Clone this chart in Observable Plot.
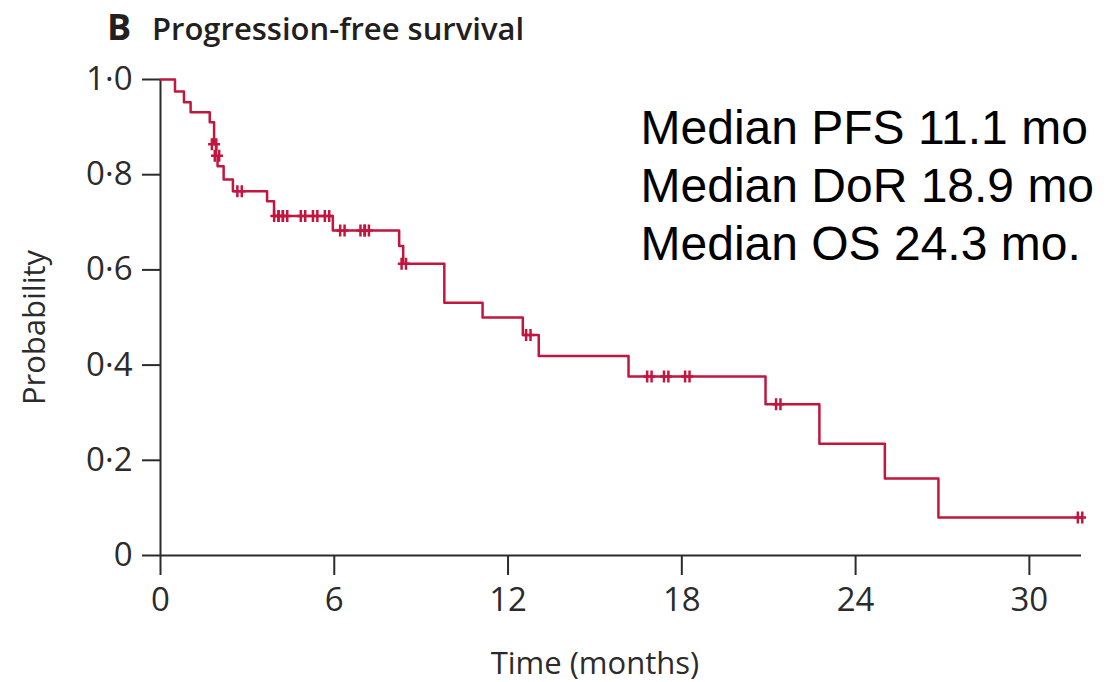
<!DOCTYPE html>
<html><head><meta charset="utf-8">
<script src="https://cdn.jsdelivr.net/npm/d3@7"></script>
<script src="https://cdn.jsdelivr.net/npm/@observablehq/plot@0.6"></script>
<style>
html,body{margin:0;padding:0;background:#fff;}
#wrap{width:1120px;height:682px;position:relative;overflow:hidden;background:#fff;}
#title{height:40px;position:relative;font-family:"Open Sans",sans-serif;color:#231f20;}
#title .letter{position:absolute;left:107px;top:9px;font-size:36px;font-weight:700;line-height:1;}
#title .text{position:absolute;left:152px;top:13px;font-size:31px;font-weight:600;line-height:1;}
#chart svg{display:block;}
</style></head><body>
<div id="wrap">
  <div id="title"><span class="letter" id="panel"></span><span class="text" id="ttl"></span></div>
  <div id="chart"></div>
</div>
<script>
// ---- data ----
const panelLetter = "B";
const titleText = "Progression-free survival";
const xLabel = "Time (months)";
const yLabel = "Probability";
const xTicks = [0, 6, 12, 18, 24, 30];
const yTicks = [0, 0.2, 0.4, 0.6, 0.8, 1.0];
const xMax = 31.8;
// Kaplan-Meier step curve: time of each step and survival after it
const stepTimes = [0, 0.50, 0.81, 1.04, 1.70, 1.85, 1.92, 1.97, 2.18, 2.50, 3.68, 3.92, 5.95, 8.24, 8.38, 9.80, 11.12, 12.51, 13.06, 16.16, 20.89, 22.75, 25.01, 26.86, 31.8];
const stepSurv  = [1.0, 0.975, 0.952, 0.931, 0.910, 0.864, 0.840, 0.818, 0.790, 0.765, 0.744, 0.713, 0.683, 0.650, 0.613, 0.531, 0.500, 0.463, 0.419, 0.376, 0.318, 0.235, 0.162, 0.080, 0.080];
// censored observations
const censorTimes = [1.85, 1.95, 2.73, 4.00, 4.15, 4.30, 4.92, 5.34, 5.75, 6.28, 6.98, 7.12, 8.40, 12.70, 16.88, 17.46, 18.19, 21.33, 31.75];
const censorSurv  = [0.864, 0.840, 0.765, 0.713, 0.713, 0.713, 0.713, 0.713, 0.713, 0.683, 0.683, 0.683, 0.613, 0.463, 0.376, 0.376, 0.376, 0.318, 0.080];
const medianLines = ["Median PFS 11.1 mo", "Median DoR 18.9 mo", "Median OS 24.3 mo."];

document.getElementById("panel").textContent = panelLetter;
document.getElementById("ttl").textContent = titleText;

const curveColor = "#c2163f";
const axisColor = "#2b2b2b";

const steps = stepTimes.map((t, i) => ({t, s: stepSurv[i]}));
const censors = censorTimes.map((t, i) => ({t, s: censorSurv[i]}));

const censorSymbol = {
  draw(context) {
    const h = 6, w = 2.2;
    context.moveTo(-w, -h); context.lineTo(-w, h);
    context.moveTo(w, -h); context.lineTo(w, h);
    context.moveTo(-6, 0); context.lineTo(6, 0);
  }
};

const fmtY = d => d === 0 ? "0" : d.toFixed(1).replace(".", "\u00B7");

const chart = Plot.plot({
  width: 1120,
  height: 642,
  marginLeft: 160,
  marginRight: 39,
  marginTop: 39,
  marginBottom: 127,
  style: {fontFamily: "'Open Sans', sans-serif", background: "#fff", color: axisColor},
  x: {domain: [0, xMax]},
  y: {domain: [0, 1]},
  marks: [
    Plot.ruleY([0], {stroke: axisColor, strokeWidth: 2}),
    Plot.ruleX([0], {y1: 0, y2: 1, stroke: axisColor, strokeWidth: 2}),
    Plot.axisX(xTicks, {tickSize: 20, tickPadding: 12, fontSize: 33, stroke: axisColor, strokeWidth: 2, fill: axisColor, label: null}),
    Plot.axisY(yTicks, {tickSize: 18, tickPadding: 10, fontSize: 33, stroke: axisColor, strokeWidth: 2, fill: axisColor, tickFormat: fmtY, label: null}),
    Plot.text([xLabel], {x: [d3.mean(d3.extent(xTicks))], frameAnchor: "bottom", lineAnchor: "bottom", dy: 118, fontSize: 31, fill: axisColor}),
    Plot.text([yLabel], {frameAnchor: "left", rotate: -90, textAnchor: "middle", lineAnchor: "top", dx: -138, dy: 10, fontSize: 31, fill: axisColor}),
    Plot.line(steps, {x: "t", y: "s", curve: "step-after", stroke: curveColor, strokeWidth: 2.5}),
    Plot.dot(censors, {x: "t", y: "s", symbol: censorSymbol, stroke: curveColor, strokeWidth: 2.5, fill: "none"}),
    Plot.text([medianLines.join("\n")], {frameAnchor: "top-left", textAnchor: "start", lineAnchor: "top", dx: 480, dy: 24, fontSize: 48, lineHeight: 1.2, fontFamily: "'Liberation Sans', Arial, sans-serif", fill: "#000"})
  ]
});
document.getElementById("chart").appendChild(chart);
</script>
</body></html>
